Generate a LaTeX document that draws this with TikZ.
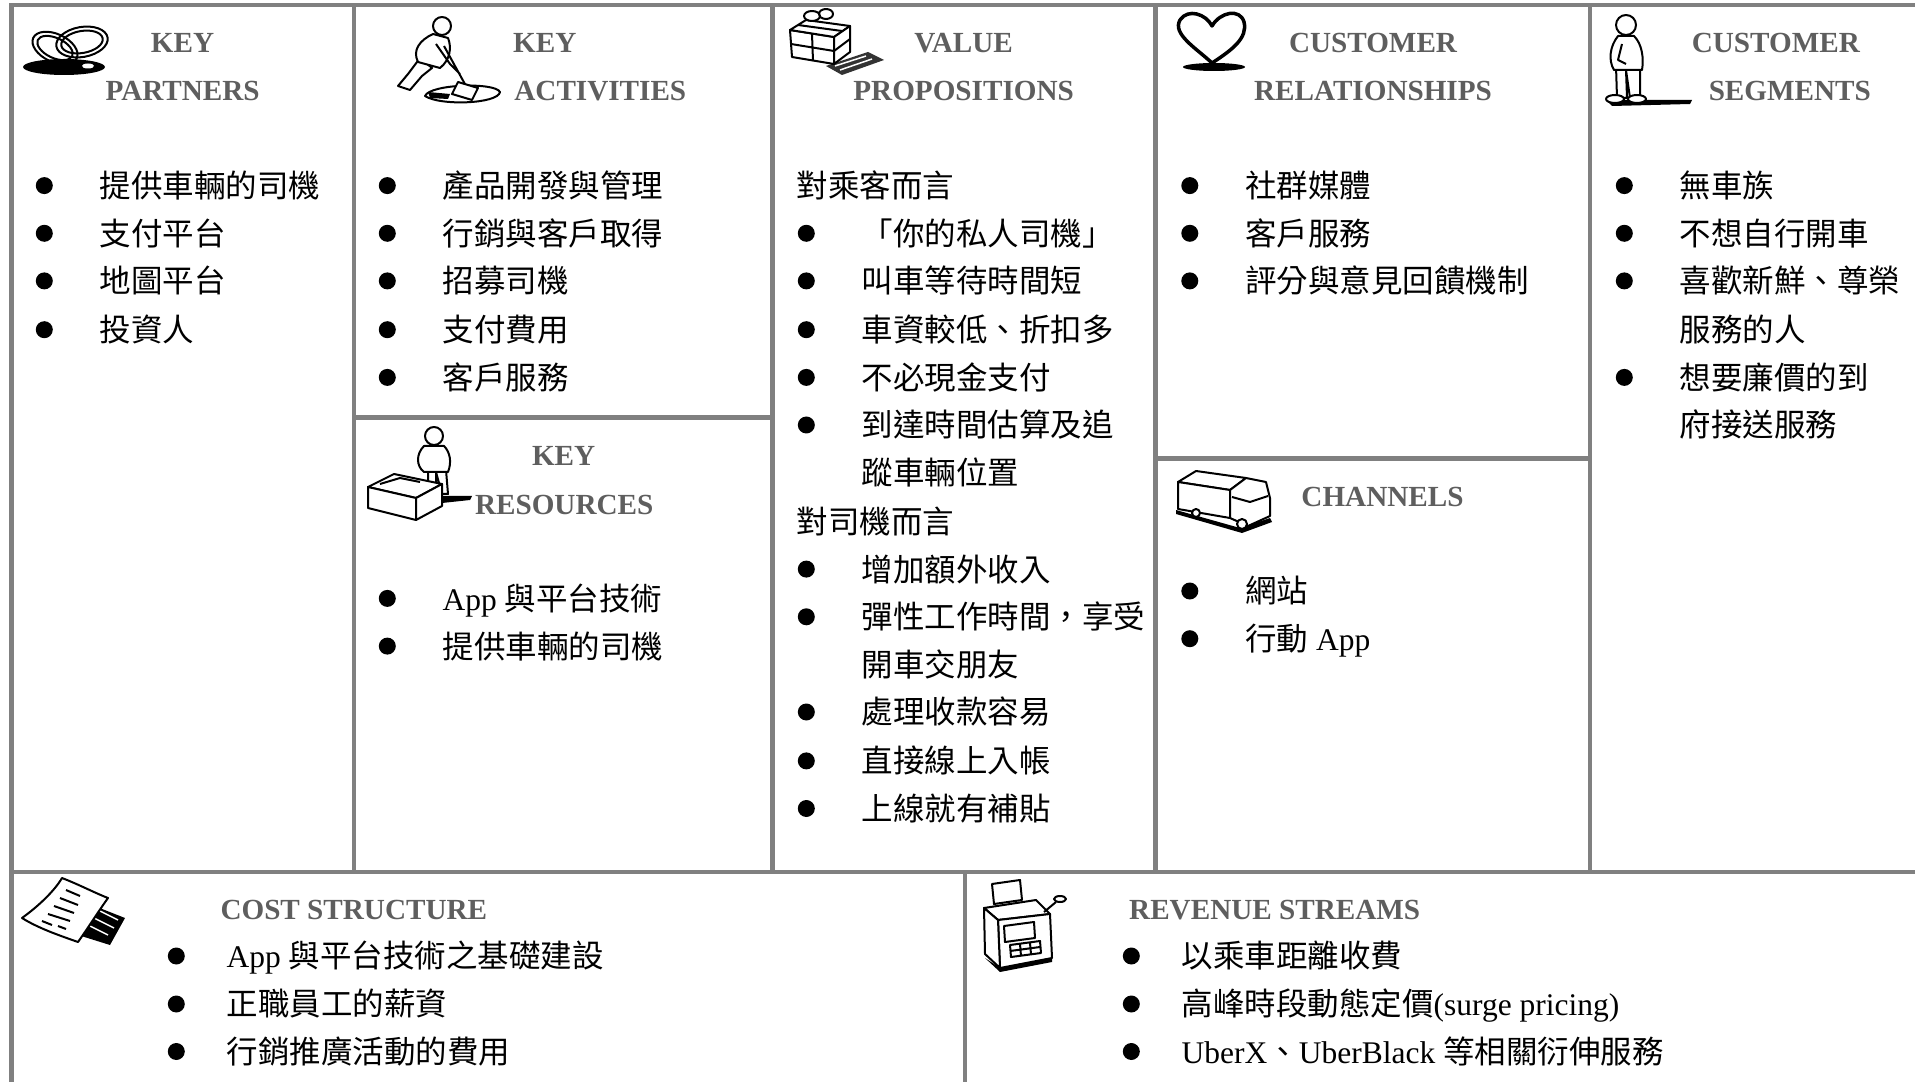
\documentclass[tikz,border=0pt]{standalone}
\usepackage{fontspec}
\setmainfont{Liberation Serif}
\newfontfamily\cjk{Noto Sans CJK TC}
\usepackage{xcolor}
\usepackage{tikz}
\definecolor{gridgray}{HTML}{808080}
\definecolor{headgray}{HTML}{5E5E5E}
\newcommand{\tnr}[1]{{\rmfamily #1}}

\begin{document}
\begin{tikzpicture}[x=0.1mm,y=-0.1mm,
  grid/.style={draw=gridgray,line width=0.45mm},
  head/.style={inner sep=0pt,text height=1.94mm,text depth=0pt,text=headgray,
    font=\fontsize{8.3pt}{10pt}\selectfont\bfseries},
  txt/.style={anchor=west,inner sep=0pt,text height=2.77mm,text depth=0.38mm,
    font=\cjk\fontsize{8.96pt}{10pt}\selectfont},
  bullet/.style={circle,fill=black,inner sep=0pt,text height=0pt,text depth=0pt,minimum size=1.7mm},
  item/.style={txt,label={[bullet,label distance=#1]left:{}}},
  item/.default=4.55mm,
  icon/.style={draw=black,line width=0.2mm,line join=round}]
  \useasboundingbox (0,0) rectangle (1915,1082);
  \fill[white] (0,0) rectangle (1915,1082);

  % canvas grid
  \draw[grid] (1915,5) -- (11.5,5) -- (11.5,1082);
  \draw[grid] (354,5) -- (354,872);
  \draw[grid] (772.5,5) -- (772.5,872);
  \draw[grid] (1155.5,5) -- (1155.5,872);
  \draw[grid] (1590,5) -- (1590,872);
  \draw[grid] (354,417.5) -- (772.5,417.5);
  \draw[grid] (1155.5,458.5) -- (1590,458.5);
  \draw[grid] (11.5,872) -- (1915,872);
  \draw[grid] (965,872) -- (965,1082);

  % rings
  \fill (64,67) ellipse [x radius=41,y radius=8];
  \fill[white] (88,66) ellipse [x radius=6,y radius=2.5];
  \draw[icon,rotate around={-25:(55,48)}] (55,48) ellipse [x radius=24,y radius=14] (55,48) ellipse [x radius=19,y radius=10];
  \draw[icon,rotate around={10:(82,42)}] (82,42) ellipse [x radius=26,y radius=15] (82,42) ellipse [x radius=21,y radius=11];

  % digging man
  \draw[icon,fill=white] (425,96) .. controls (430,84) and (495,82) .. (500,92) .. controls (498,104) and (440,106) .. (425,96) -- cycle;
  \fill (428,92) -- (450,94) -- (448,99) -- (430,98) -- cycle;
  \draw[icon,fill=white] (420,58) -- (408,74) -- (398,86) -- (410,90) -- (422,76) -- (432,68) -- cycle;
  \draw[icon,fill=white] (433,34) .. controls (420,40) and (412,50) .. (418,62) -- (440,68) .. controls (450,60) and (452,48) .. (448,38) -- cycle;
  \draw[icon,fill=white] (442,26) circle [radius=9];
  \draw[icon] (444,46) -- (466,86) (436,44) -- (450,64) -- (460,74);
  \draw[icon,fill=white] (458,82) -- (478,88) -- (472,100) -- (452,94) -- cycle;

  % gift
  \fill[black!80] (826,66) -- (868,52) -- (884,60) -- (842,75) -- cycle;
  \draw[white,line width=0.15mm] (835,66) -- (866,56) (840,70) -- (872,59);
  \draw[icon,fill=white] (790,30) -- (834,37) -- (834,64) -- (792,57) -- cycle;
  \draw[icon,fill=white] (790,30) -- (806,20) -- (850,26) -- (834,37) -- cycle;
  \draw[icon,fill=white] (834,37) -- (850,26) -- (850,52) -- (834,64) -- cycle;
  \draw[icon] (812,34) -- (813,61) (791,44) -- (834,51) -- (850,39) (798,25) -- (842,31);
  \draw[icon,fill=white] (812,16) ellipse [x radius=8,y radius=5] (826,14) ellipse [x radius=7,y radius=5];

  % heart
  \fill (1214,67) ellipse [x radius=31,y radius=4];
  \draw[icon,line width=0.35mm] (1212,63) .. controls (1196,48) and (1172,34) .. (1180,20) .. controls (1188,8) and (1206,14) .. (1212,26) .. controls (1220,12) and (1240,8) .. (1244,22) .. controls (1248,38) and (1232,50) .. (1212,63);

  % standing man
  \fill (1606,100) -- (1692,100) -- (1690,104) -- (1612,106) -- cycle;
  \draw[icon,fill=white] (1616,66) -- (1617,98) -- (1627,98) -- (1626,70) -- (1630,98) -- (1640,98) -- (1640,66) -- cycle;
  \draw[icon,fill=white] (1615,99) ellipse [x radius=9,y radius=4] (1637,99) ellipse [x radius=9,y radius=4];
  \draw[icon,fill=white] (1618,36) .. controls (1610,46) and (1608,60) .. (1614,70) -- (1642,70) .. controls (1644,58) and (1642,44) .. (1634,36) -- cycle;
  \draw[icon,fill=white] (1626,25) circle [radius=10];
  \draw[icon] (1622,44) -- (1618,60) -- (1626,64);

  % man and bed
  \draw[icon,fill=white] (428,470) -- (428,494) -- (436,494) -- (436,472) -- (442,494) -- (448,494) -- (446,470) -- cycle;
  \draw[icon,fill=white] (424,446) .. controls (416,454) and (416,466) .. (424,472) -- (448,472) .. controls (452,462) and (450,452) .. (444,446) -- cycle;
  \draw[icon,fill=white] (434,436) circle [radius=9];
  \fill (442,496) -- (472,496) -- (470,500) -- (442,503) -- cycle;
  \draw[icon,fill=white] (368,487) -- (394,474) -- (442,484) -- (416,498) -- cycle;
  \draw[icon,fill=white] (368,487) -- (416,498) -- (416,520) -- (368,508) -- cycle;
  \draw[icon,fill=white] (416,498) -- (442,484) -- (442,506) -- (416,520) -- cycle;
  \draw[icon] (380,484) -- (400,478) -- (420,482);

  % truck
  \fill (1176,510) -- (1240,528) -- (1270,518) -- (1272,522) -- (1242,533) -- (1176,514) -- cycle;
  \draw[icon,fill=white] (1178,482) -- (1196,471) -- (1246,478) -- (1230,490) -- cycle;
  \draw[icon,fill=white] (1178,482) -- (1230,490) -- (1230,518) -- (1178,509) -- cycle;
  \draw[icon,fill=white] (1230,490) -- (1246,478) -- (1266,482) -- (1270,498) -- (1270,516) -- (1248,526) -- (1230,518) -- cycle;
  \draw[icon] (1232,497) -- (1250,502) -- (1268,496);
  \draw[icon,fill=white] (1242,524) circle [radius=5] (1196,513) circle [radius=4];

  % paper
  \fill (92,905) -- (125,918) -- (110,945) -- (78,935) -- cycle;
  \draw[white,line width=0.15mm] (98,910) -- (118,920) (94,918) -- (114,928) (90,926) -- (108,935);
  \draw[icon,fill=white] (22,918) .. controls (40,905) and (55,890) .. (62,878) .. controls (80,885) and (95,893) .. (108,898) .. controls (98,912) and (88,928) .. (78,942) .. controls (58,935) and (38,928) .. (22,918) -- cycle;
  \draw[icon] (66,890) -- (80,896) (60,898) -- (78,905) (54,906) -- (74,913) (48,914) -- (70,921) (42,921) -- (52,925) (58,926) -- (66,929);

  % cash register
  \fill (985,958) -- (1000,972) -- (1052,962) -- (1052,958) -- (1000,968) -- cycle;
  \draw[icon,fill=white] (984,908) -- (1036,900) -- (1050,914) -- (998,920) -- cycle;
  \draw[icon,fill=white] (998,920) -- (1050,914) -- (1052,958) -- (1000,968) -- cycle;
  \draw[icon,fill=white] (984,908) -- (998,920) -- (1000,968) -- (985,954) -- cycle;
  \draw[icon,fill=white] (992,884) -- (1020,880) -- (1022,900) -- (994,904) -- cycle;
  \draw[icon] (1004,926) -- (1034,922) -- (1035,938) -- (1005,942) -- cycle;
  \draw[icon] (1010,945) -- (1040,941) -- (1041,953) -- (1011,957) -- cycle (1020,944) -- (1021,956) (1030,943) -- (1031,954) (1010,951) -- (1040,947);
  \draw[icon] (1044,912) -- (1056,902);
  \draw[icon,fill=white] (1060,899) ellipse [x radius=6,y radius=3];

  % headings
  \node[head] (kp-t1) at (182.6,42.7) {KEY};
  \node[head] (kp-t2) at (182.6,90.4) {PARTNERS};
  \node[head] (ka-t1) at (544.7,42.7) {KEY};
  \node[head] (ka-t2) at (600.3,91) {ACTIVITIES};
  \node[head] (vp-t1) at (963.6,42.7) {VALUE};
  \node[head] (vp-t2) at (963.6,90.4) {PROPOSITIONS};
  \node[head] (cr-t1) at (1373,42.7) {CUSTOMER};
  \node[head] (cr-t2) at (1373,90.4) {RELATIONSHIPS};
  \node[head] (cs-t1) at (1775.8,42.7) {CUSTOMER};
  \node[head] (cs-t2) at (1789.8,90.4) {SEGMENTS};
  \node[head] (kr-t1) at (563.6,455.5) {KEY};
  \node[head] (kr-t2) at (564.2,504.4) {RESOURCES};
  \node[head] (ch-t) at (1382.5,497) {CHANNELS};
  \node[head,anchor=west] (cost-t) at (219.8,910) {COST STRUCTURE};
  \node[head,anchor=west] (rev-t) at (1128.5,910) {REVENUE STREAMS};

  % key partners
  \node[item] (kp-1) at (99,185.6) {提供車輛的司機};
  \node[item] (kp-2) at (99,233.3) {支付平台};
  \node[item] (kp-3) at (99,280.9) {地圖平台};
  \node[item] (kp-4) at (99,329.7) {投資人};

  % key activities
  \node[item] (ka-1) at (442,185.6) {產品開發與管理};
  \node[item] (ka-2) at (442,233.3) {行銷與客戶取得};
  \node[item] (ka-3) at (442,280.9) {招募司機};
  \node[item] (ka-4) at (442,329.7) {支付費用};
  \node[item] (ka-5) at (442,377.4) {客戶服務};

  % key resources
  \node[item] (kr-1) at (442,598.4) {\tnr{App }與平台技術};
  \node[item] (kr-2) at (442,646.1) {提供車輛的司機};

  % value propositions
  \node[txt] (vp-h1) at (796,185.6) {對乘客而言};
  \node[item] (vp-1) at (861,233.3) {「你的私人司機」};
  \node[item] (vp-2) at (861,280.9) {叫車等待時間短};
  \node[item] (vp-3) at (861,329.7) {車資較低、折扣多};
  \node[item] (vp-4) at (861,377.4) {不必現金支付};
  \node[item] (vp-5) at (861,425.0) {到達時間估算及追};
  \node[txt] (vp-5b) at (861,472.6) {蹤車輛位置};
  \node[txt] (vp-h2) at (796,521.5) {對司機而言};
  \node[item] (vp-6) at (861,569.1) {增加額外收入};
  \node[item] (vp-7) at (861,616.8) {彈性工作時間，享受};
  \node[txt] (vp-7b) at (861,664.4) {開車交朋友};
  \node[item] (vp-8) at (861,712.0) {處理收款容易};
  \node[item] (vp-9) at (861,760.9) {直接線上入帳};
  \node[item] (vp-10) at (861,808.5) {上線就有補貼};

  % customer relationships
  \node[item] (cr-1) at (1244.5,185.6) {社群媒體};
  \node[item] (cr-2) at (1244.5,233.3) {客戶服務};
  \node[item] (cr-3) at (1244.5,280.9) {評分與意見回饋機制};

  % channels
  \node[item] (ch-1) at (1244.5,591) {網站};
  \node[item] (ch-2) at (1244.5,638.7) {行動\tnr{ App}};

  % customer segments
  \node[item] (cs-1) at (1679,185.6) {無車族};
  \node[item] (cs-2) at (1679,233.3) {不想自行開車};
  \node[item] (cs-3) at (1679,280.9) {喜歡新鮮、尊榮};
  \node[txt] (cs-3b) at (1679,329.7) {服務的人};
  \node[item] (cs-4) at (1679,377.4) {想要廉價的到};
  \node[txt] (cs-4b) at (1679,425.0) {府接送服務};

  % cost structure
  \node[item=4.05mm] (cost-1) at (226,956) {\tnr{App }與平台技術之基礎建設};
  \node[item=4.05mm] (cost-2) at (226,1004) {正職員工的薪資};
  \node[item=4.05mm] (cost-3) at (226,1051.5) {行銷推廣活動的費用};

  % revenue streams
  \node[item=4.05mm] (rev-1) at (1181,956) {以乘車距離收費};
  \node[item=4.05mm] (rev-2) at (1181,1004) {高峰時段動態定價\tnr{(surge pricing)}};
  \node[item=4.05mm] (rev-3) at (1181,1051.5) {\tnr{UberX}、\tnr{UberBlack }等相關衍伸服務};
\end{tikzpicture}
\end{document}
